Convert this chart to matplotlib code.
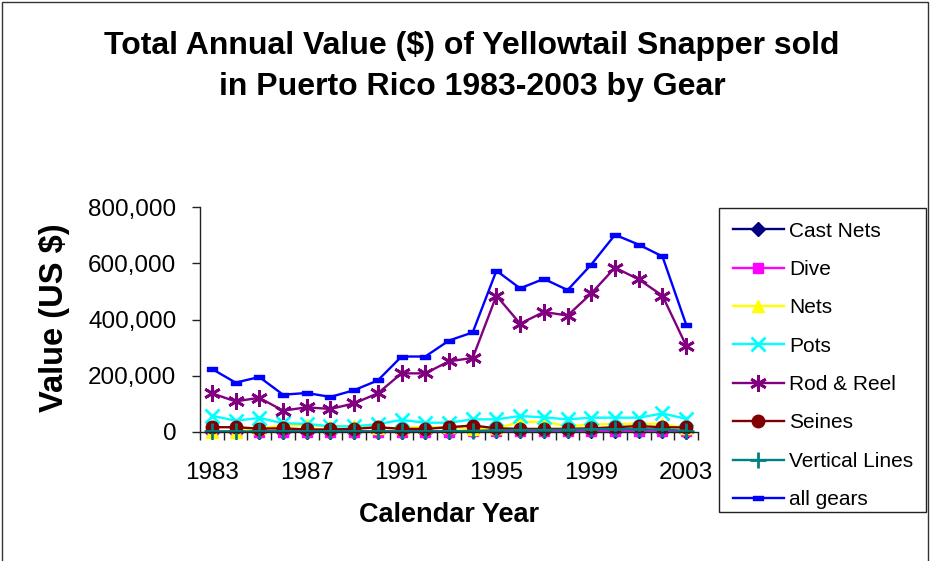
import matplotlib
matplotlib.use("Agg")
import matplotlib.pyplot as plt
from matplotlib.path import Path
from matplotlib.patches import Rectangle
from matplotlib.ticker import FuncFormatter, FixedLocator, NullFormatter

plt.rcParams['font.family'] = ['Liberation Sans', 'DejaVu Sans']

years = list(range(1983, 2004))

cast_nets = [500, 500, 500, 500, 500, 500, 500, 500, 500, 500, 500, 1000,
             1000, 1000, 1000, 1500, 1000, 1000, 1500, 1000, 500]
dive = [500, 500, 500, 500, 500, 500, 500, 500, 500, 500, 500, 1000,
        1500, 1500, 1500, 1500, 1500, 1500, 1500, 2000, 1500]
nets = [0, 0, 12000, 22000, 24000, 18000, 20000, 12000, 14000, 16000, 16000,
        10000, 12000, 35000, 35000, 20000, 25000, 28000, 28000, 28000, 12000]
pots = [57000, 39000, 49000, 30000, 28000, 19000, 19000, 27000, 42000, 32000,
        32000, 44000, 44000, 56000, 51000, 44000, 50000, 50000, 50000, 65000, 46000]
rod_reel = [137000, 108000, 121000, 75000, 87000, 81000, 101000, 137000,
            208000, 208000, 251000, 263000, 485000, 385000, 427000, 414000,
            493000, 585000, 543000, 485000, 307000]
seines = [16000, 16000, 11000, 12000, 8000, 8000, 10000, 16000, 10000, 10000,
          16000, 22000, 12000, 10000, 10000, 10000, 12000, 16000, 20000, 16000, 15000]
vertical_lines = [1000, 1000, 1000, 1000, 1000, 1000, 1000, 1000, 1000, 1000,
                  1500, 3000, 5000, 6000, 6000, 7000, 9000, 9000, 9000, 8000, 3000]
all_gears = [224000, 175000, 195000, 132000, 138000, 124000, 148000, 183000,
             268000, 268000, 325000, 354000, 574000, 511000, 545000, 505000,
             596000, 702000, 667000, 625000, 382000]

series_names = ["Cast Nets", "Dive", "Nets", "Pots", "Rod & Reel", "Seines",
                "Vertical Lines", "all gears"]
series_values = [cast_nets, dive, nets, pots, rod_reel, seines, vertical_lines, all_gears]

# flat horizontal bar used as the "all gears" marker
dash_marker = Path([(-1.0, -0.45), (1.0, -0.45), (1.0, 0.45), (-1.0, 0.45), (-1.0, -0.45)],
                   [Path.MOVETO, Path.LINETO, Path.LINETO, Path.LINETO, Path.CLOSEPOLY])

styles = [
    dict(color="#000080", marker="D", ms=7),
    dict(color="#FF00FF", marker="s", ms=7.5),
    dict(color="#FFFF00", marker="^", ms=9),
    dict(color="#00FFFF", marker="x", ms=10, mew=2),
    dict(color="#800080", marker=(6, 2, 0), ms=12, mew=2),
    dict(color="#800000", marker="o", ms=9),
    dict(color="#008080", marker="+", ms=11, mew=2),
    dict(color="#0000FF", marker=dash_marker, ms=7),
]

fig = plt.figure(figsize=(9.3, 5.61), dpi=100)
fig.patch.set_facecolor("white")

# outer chart border
fig.add_artist(Rectangle((2 / 930, -0.05), 926 / 930, 1.05 - 2 / 561,
                         transform=fig.transFigure, fill=False,
                         edgecolor="#333333", linewidth=1.0))

ax = fig.add_axes([200 / 930, 1 - 431.7 / 561, 498 / 930, 224.4 / 561])
x = list(range(len(years)))
handles = []
for name, vals, st in zip(series_names, series_values, styles):
    h, = ax.plot(x, vals, color=st["color"], linewidth=1.7, marker=st["marker"],
                 markersize=st["ms"], markerfacecolor=st["color"],
                 markeredgecolor=st["color"], markeredgewidth=st.get("mew", 1.0),
                 label=name, clip_on=False)
    handles.append(h)

ax.set_xlim(-0.5, len(years) - 0.5)
ax.set_ylim(0, 800000)
for side in ("top", "right"):
    ax.spines[side].set_visible(False)
for side in ("left", "bottom"):
    ax.spines[side].set_color("#222222")
    ax.spines[side].set_linewidth(1.0)

ax.yaxis.set_major_locator(FixedLocator([0, 200000, 400000, 600000, 800000]))
ax.yaxis.set_major_formatter(FuncFormatter(lambda v, p: f"{int(v):,}"))
ax.tick_params(axis="y", direction="out", length=6, width=1, pad=11,
               labelsize=17.5, color="#222222")

label_pos = [i for i, yv in enumerate(years) if (yv - 1983) % 4 == 0]
ax.set_xticks(label_pos)
ax.set_xticklabels([str(years[i]) for i in label_pos])
ax.set_xticks([i - 0.5 for i in range(len(years) + 1)], minor=True)
ax.xaxis.set_minor_formatter(NullFormatter())
ax.tick_params(axis="x", which="major", length=0, pad=22, labelsize=17.5)
ax.tick_params(axis="x", which="minor", direction="out", length=6, width=1,
               color="#222222")

fig.text(472 / 930, 1 - 46 / 561, "Total Annual Value ($) of Yellowtail Snapper sold",
         ha="center", va="center", fontsize=23, fontweight="bold")
fig.text(472 / 930, 1 - 87 / 561, "in Puerto Rico 1983-2003 by Gear",
         ha="center", va="center", fontsize=23, fontweight="bold")
fig.text(55 / 930, 1 - 318 / 561, "Value (US $)", rotation=90,
         ha="center", va="center", fontsize=23.5, fontweight="bold")
fig.text(449 / 930, 1 - 515 / 561, "Calendar Year",
         ha="center", va="center", fontsize=19.5, fontweight="bold")

# legend box
fig.add_artist(Rectangle((719 / 930, 1 - 512 / 561), 207 / 930, 304 / 561,
                         transform=fig.transFigure, facecolor="white",
                         edgecolor="#222222", linewidth=1.0, zorder=2))
leg = fig.legend(handles=handles, loc="upper left",
                 bbox_to_anchor=(719 / 930, 1 - 208 / 561),
                 fontsize=15, frameon=False, numpoints=1,
                 handlelength=2.45, handletextpad=0.25, labelspacing=0.93,
                 borderpad=0.65, borderaxespad=0.0)
leg.set_zorder(3)

fig.savefig("out.png", dpi=100, facecolor="white")
